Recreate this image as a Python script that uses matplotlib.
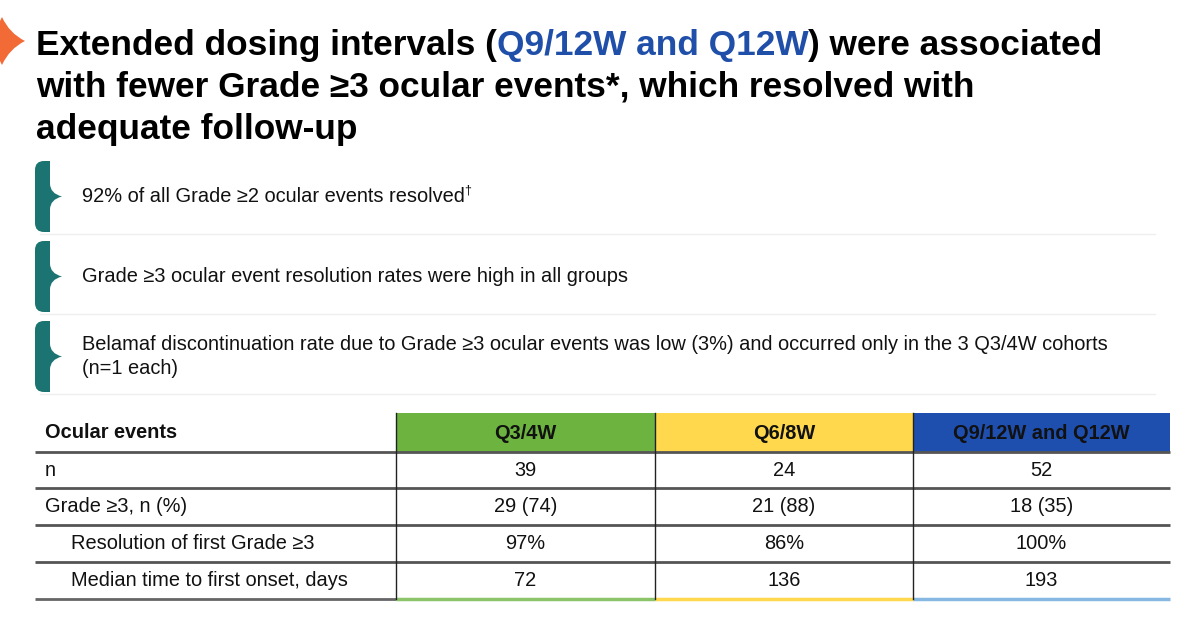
import matplotlib.pyplot as plt
from matplotlib.path import Path
from matplotlib.patches import PathPatch, Rectangle

# Slide text
title_lines = [
    [("Extended dosing intervals (", "k"), ("Q9/12W and Q12W", "blue"), (") were associated", "k")],
    [("with fewer Grade \u22653 ocular events*, which resolved with", "k")],
    [("adequate follow-up", "k")],
]
bullets = [
    ["92% of all Grade \u22652 ocular events resolved"],
    ["Grade \u22653 ocular event resolution rates were high in all groups"],
    ["Belamaf discontinuation rate due to Grade \u22653 ocular events was low (3%) and occurred only in the 3 Q3/4W cohorts",
     "(n=1 each)"],
]

# Table data
columns = ["Q3/4W", "Q6/8W", "Q9/12W and Q12W"]
row_labels = ["n", "Grade \u22653, n (%)", "Resolution of first Grade \u22653", "Median time to first onset, days"]
row_indent = [False, False, True, True]
n_pts = [39, 24, 52]
g3_count = [29, 21, 18]
g3_pct = [74, 88, 35]
resolution = [97, 86, 100]
median_days = [72, 136, 193]

rows = [
    [str(v) for v in n_pts],
    [f"{c} ({p})" for c, p in zip(g3_count, g3_pct)],
    [f"{v}%" for v in resolution],
    [str(v) for v in median_days],
]

BLUE = "#1f4fa8"
TEAL = "#1b7471"
head_colors = ["#6cb33f", "#ffd84d", "#1f4fae"]
foot_colors = ["#8cc46a", "#ffd84d", "#86b8e2"]
FAM = ["Liberation Sans", "DejaVu Sans"]
FS = 14.4

W, H = 1200, 617
fig = plt.figure(figsize=(12, 6.17), dpi=100)
ax = fig.add_axes([0, 0, 1, 1])
ax.set_xlim(0, W)
ax.set_ylim(H, 0)
ax.axis("off")
renderer = fig.canvas.get_renderer()
inv = ax.transData.inverted()

# orange star, cut by the left edge
cx, cy, rx, ry = 2, 41, 23, 24
k = 0.32
C3 = Path.CURVE3
verts = [(cx + rx, cy),
         (cx + rx * k, cy - ry * k), (cx, cy - ry),
         (cx - rx * k, cy - ry * k), (cx - rx, cy),
         (cx - rx * k, cy + ry * k), (cx, cy + ry),
         (cx + rx * k, cy + ry * k), (cx + rx, cy)]
star = Path(verts, [Path.MOVETO, C3, C3, C3, C3, C3, C3, C3, C3])
ax.add_patch(PathPatch(star, fc="#f26a35", ec="none"))

# title, drawn piece by piece
tfont = dict(family=FAM, fontsize=25.4, fontweight="bold")
for i, line in enumerate(title_lines):
    x = 36
    y = 45 + i * 42.5
    for txt, col in line:
        t = ax.text(x, y, txt, color=BLUE if col == "blue" else "black", va="center", ha="left", **tfont)
        bb = t.get_window_extent(renderer)
        x = inv.transform((bb.x1, bb.y0))[0]

# bullet boxes with teal braces
def brace(top, bottom):
    x0, x1, tip = 35, 50, 62
    mid = (top + bottom) / 2
    r = 9
    v = [(x0, top + r), (x0, top), (x0 + r, top), (x1, top), (x1, mid - 13), (x1, mid - 3), (tip, mid),
         (x1, mid + 3), (x1, mid + 13), (x1, bottom), (x0 + r, bottom), (x0, bottom), (x0, bottom - r), (x0, top + r)]
    c = [Path.MOVETO, C3, C3, Path.LINETO, Path.LINETO, C3, C3, C3, C3, Path.LINETO, Path.LINETO, C3, C3, Path.CLOSEPOLY]
    ax.add_patch(PathPatch(Path(v, c), fc=TEAL, ec="none"))

bfont = dict(family=FAM, fontsize=FS, color="#111111")
box_tops = [161, 241, 321]
box_h = 71
for b, lines in enumerate(bullets):
    top = box_tops[b]
    brace(top, top + box_h)
    ax.plot([40, 1155], [top + box_h + 2, top + box_h + 2], color="#efefef", lw=1)
    ymid = top + box_h / 2
    start = ymid - (len(lines) - 1) * 12
    for j, s in enumerate(lines):
        t = ax.text(82, start + j * 24, s, va="center", ha="left", **bfont)
        if b == 0:
            bb = t.get_window_extent(renderer)
            xe = inv.transform((bb.x1, bb.y0))[0]
            ax.text(xe - 1, start - 6, "\u2020", va="center", ha="left",
                    family=FAM, fontsize=9, color="#111111")

# table
col_x = [396, 655, 913, 1170]
left_x = 35
head_top, head_bot = 413, 452
row_lines = [452, 488, 525, 562, 599]

for i in range(3):
    ax.add_patch(Rectangle((col_x[i], head_top), col_x[i + 1] - col_x[i], head_bot - head_top,
                           fc=head_colors[i], ec="none"))
    ax.text((col_x[i] + col_x[i + 1]) / 2, (head_top + head_bot) / 2 + 1, columns[i], ha="center", va="center",
            family=FAM, fontsize=FS, fontweight="bold", color="#111111")

ax.text(45, 433, "Ocular events", ha="left", va="center", family=FAM,
        fontsize=FS, fontweight="bold", color="#111111")

for y in row_lines[:-1]:
    ax.plot([left_x, col_x[-1]], [y, y], color="#555555", lw=2, solid_capstyle="butt")
ax.plot([left_x, col_x[0]], [row_lines[-1], row_lines[-1]], color="#666666", lw=2, solid_capstyle="butt")
for i in range(3):
    ax.plot([col_x[i], col_x[i + 1]], [row_lines[-1], row_lines[-1]], color=foot_colors[i], lw=2.5,
            solid_capstyle="butt")
for xv in col_x[:3]:
    ax.plot([xv, xv], [head_top, row_lines[-1]], color="#222222", lw=1)

for r, lab in enumerate(row_labels):
    yc = (row_lines[r] + row_lines[r + 1]) / 2
    ax.text(71 if row_indent[r] else 45, yc, lab, ha="left", va="center",
            family=FAM, fontsize=FS, color="#111111")
    for i in range(3):
        ax.text((col_x[i] + col_x[i + 1]) / 2, yc, rows[r][i], ha="center", va="center",
                family=FAM, fontsize=FS, color="#111111")

fig.savefig("out.png", dpi=100, facecolor="white")
